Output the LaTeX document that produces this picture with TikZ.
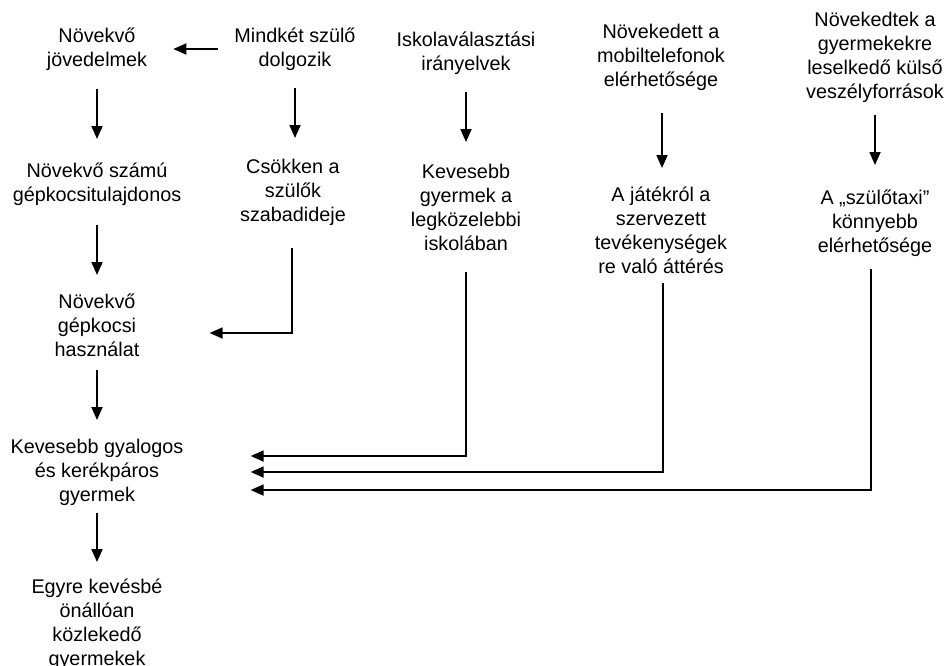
\documentclass[tikz,border=0pt]{standalone}
\usepackage{fontspec}
\setmainfont{Liberation Sans}
\usetikzlibrary{arrows.meta}
\begin{document}
\begin{tikzpicture}[x=1pt,y=-1pt,
  txt/.style={align=center, inner sep=0pt, font=\fontsize{19.8}{24}\selectfont},
  arr/.style={line width=1.8pt, -{Triangle[length=13pt,width=11pt]}}]
\useasboundingbox[fill=white] (0,0) rectangle (947,665);
% row 1
\node[txt] (n1) at (97,49) {Növekvő\\jövedelmek};
\node[txt] (n2) at (295,49) {Mindkét szülő\\dolgozik};
\node[txt] (n3) at (466,53) {Iskolaválasztási\\irányelvek};
\node[txt] (n4) at (661,57) {Növekedett a\\mobiltelefonok\\elérhetősége};
\node[txt] (n5) at (875,57) {Növekedtek a\\gyermekekre\\leselkedő külső\\veszélyforrások};
% row 2
\node[txt] (n6) at (97,184) {Növekvő számú\\gépkocsitulajdonos};
\node[txt] (n7) at (293,192) {Csökken a\\szülők\\szabadideje};
\node[txt] (n8) at (466,207) {Kevesebb\\gyermek a\\legközelebbi\\iskolában};
\node[txt] (n9) at (661,230) {A játékról a\\szervezett\\tevékenységek\\re való áttérés};
\node[txt] (n10) at (875,223) {A „szülőtaxi”\\könnyebb\\elérhetősége};
% lower chain
\node[txt] (n11) at (97,325) {Növekvő\\gépkocsi\\használat};
\node[txt] (n12) at (97,472) {Kevesebb gyalogos\\és kerékpáros\\gyermek};
\node[txt] (n13) at (97,624) {Egyre kevésbé\\önállóan\\közlekedő\\gyermekek};
% connectors
\draw[arr] ([xshift=-16pt]n2.west) -- ([xshift=26pt]n1.east);
\draw[arr] (n1 |- 0,89) -- (n6 |- 0,139);
\draw[arr] (n2 |- 0,88) -- (n2 |- 0,138);
\draw[arr] (n3 |- 0,92) -- (n8 |- 0,142);
\draw[arr] ([xshift=1pt]n4.center |- 0,113) -- ([xshift=1pt]n9.center |- 0,168);
\draw[arr] (n5 |- 0,115) -- (n10 |- 0,165);
\draw[arr] (n6 |- 0,225) -- (n11 |- 0,275);
\draw[arr] (n11 |- 0,370) -- (n12 |- 0,420);
\draw[arr] (n12 |- 0,513) -- (n13 |- 0,562);
\draw[arr] ([xshift=-1pt]n7.center |- 0,248) |- ([xshift=70pt]n11.east |- 0,333);
\draw[arr] (n8 |- 0,272) |- ([xshift=67pt]n12.east |- 0,456);
\draw[arr] ([xshift=2pt]n9.center |- 0,283) |- ([xshift=67pt]n12.east |- 0,472);
\draw[arr] ([xshift=-4pt]n10.center |- 0,269) |- ([xshift=67pt]n12.east |- 0,490);
\end{tikzpicture}
\end{document}
